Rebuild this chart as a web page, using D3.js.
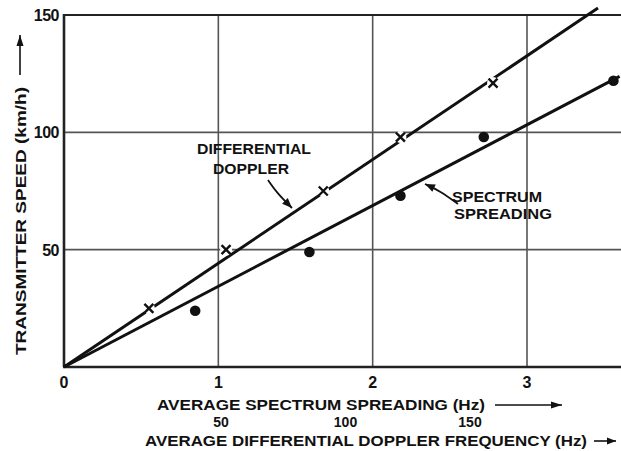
<!DOCTYPE html>
<html>
<head>
<meta charset="utf-8">
<script src="https://cdn.jsdelivr.net/npm/d3@7"></script>
<style>
  html, body { margin: 0; padding: 0; background: #fff; }
  svg text { font-family: "Liberation Sans", "DejaVu Sans", sans-serif; fill: #111; font-weight: bold; }
</style>
</head>
<body>
<svg id="chart" width="621" height="451"></svg>
<script>
// Measured points: spreading (Hz) vs transmitter speed (km/h)
const doppX = [0.55, 1.05, 1.68, 2.18, 2.78];
const doppY = [25, 50, 75, 98, 121];
const spreadX = [0.85, 1.59, 2.18, 2.72, 3.56];
const spreadY = [24, 49, 73, 98, 122];

// Fitted lines through the origin (slope in km/h per Hz)
const doppSlope = 44.2;
const spreadSlope = 34.4;

const xTicks = [0, 1, 2, 3];
const yTicks = [50, 100, 150];
const dopplerFreqTicks = [50, 100, 150];

const svg = d3.select("#chart");
const x = d3.scaleLinear().domain([0, 3]).range([64, 527]);
const y = d3.scaleLinear().domain([0, 150]).range([367, 15]);
// secondary frequency scale printed under the spreading axis
const xf = d3.scaleLinear().domain([50, 150]).range([221, 470]);

const right = 621;

// grid
const grid = svg.append("g").attr("stroke", "#555").attr("stroke-width", 1.6);
grid.selectAll("line.v").data(xTicks.filter(d => d > 0)).join("line")
  .attr("x1", d => x(d)).attr("x2", d => x(d))
  .attr("y1", y(150)).attr("y2", y(0));
grid.selectAll("line.h").data(yTicks.filter(d => d < 150)).join("line")
  .attr("x1", x(0)).attr("x2", right)
  .attr("y1", d => y(d)).attr("y2", d => y(d));

// frame: left, bottom, top
const frame = svg.append("g").attr("stroke", "#222").attr("stroke-width", 2.6).attr("fill", "none");
frame.append("line").attr("x1", x(0)).attr("x2", x(0)).attr("y1", y(150) - 1).attr("y2", y(0));
frame.append("line").attr("x1", x(0) - 1).attr("x2", right).attr("y1", y(0)).attr("y2", y(0));
frame.append("line").attr("x1", x(0) - 1).attr("x2", right).attr("y1", y(150)).attr("y2", y(150)).attr("stroke-width", 2.2);

// fitted lines
const lines = svg.append("g").attr("stroke", "#111").attr("stroke-width", 3).attr("stroke-linecap", "butt");
const doppEnd = 3.46;
const spreadEnd = 3.6;
lines.append("line")
  .attr("x1", x(0)).attr("y1", y(0))
  .attr("x2", x(doppEnd)).attr("y2", y(doppEnd * doppSlope));
lines.append("line")
  .attr("x1", x(0)).attr("y1", y(0))
  .attr("x2", x(spreadEnd)).attr("y2", y(spreadEnd * spreadSlope));

// cross markers (differential doppler) with a white gap around them
const crosses = svg.append("g");
const cs = 4.5;
doppX.forEach((d, i) => {
  const cx = x(d), cy = y(doppY[i]);
  const g = crosses.append("g").attr("transform", `translate(${cx},${cy})`);
  g.append("circle").attr("r", 6).attr("fill", "#fff");
  const p = `M${-cs},${-cs}L${cs},${cs}M${-cs},${cs}L${cs},${-cs}`;
  g.append("path").attr("d", p).attr("stroke", "#111").attr("stroke-width", 2.4);
});

// dot markers (spectrum spreading)
svg.append("g").selectAll("circle").data(spreadX).join("circle")
  .attr("cx", d => x(d))
  .attr("cy", (d, i) => y(spreadY[i]))
  .attr("r", 5.3)
  .attr("fill", "#111");

// tick labels
svg.append("g").selectAll("text").data(xTicks).join("text")
  .attr("x", d => x(d)).attr("y", 388)
  .attr("text-anchor", "middle")
  .attr("font-size", 16)
  .text(d => d);
svg.append("g").selectAll("text").data(yTicks).join("text")
  .attr("x", 59).attr("y", d => y(d) + 6)
  .attr("text-anchor", "end")
  .attr("font-size", 16).attr("letter-spacing", -0.5)
  .text(d => d);
svg.append("g").selectAll("text").data(dopplerFreqTicks).join("text")
  .attr("x", d => xf(d)).attr("y", 427)
  .attr("text-anchor", "middle")
  .attr("font-size", 14)
  .text(d => d);

// arrow helper
function arrow(x1, y1, x2, y2, head) {
  const g = svg.append("g");
  g.append("line").attr("x1", x1).attr("y1", y1).attr("x2", x2).attr("y2", y2)
    .attr("stroke", "#111").attr("stroke-width", 1.6);
  const a = Math.atan2(y2 - y1, x2 - x1);
  const h = head || 9, w = 3.5;
  const bx = x2 - h * Math.cos(a), by = y2 - h * Math.sin(a);
  g.append("path")
    .attr("d", `M${x2},${y2}L${bx - w * Math.sin(a)},${by + w * Math.cos(a)}L${bx + w * Math.sin(a)},${by - w * Math.cos(a)}Z`)
    .attr("fill", "#111");
}

function label(sel, txt, len) {
  return sel.attr("textLength", len).attr("lengthAdjust", "spacingAndGlyphs").text(txt);
}

// axis titles
label(svg.append("text").attr("x", 157).attr("y", 410).attr("font-size", 14.5),
  "AVERAGE SPECTRUM SPREADING (Hz)", 328);
arrow(495, 405, 562, 405, 11);

label(svg.append("text").attr("x", 145).attr("y", 446).attr("font-size", 14.5),
  "AVERAGE DIFFERENTIAL DOPPLER FREQUENCY (Hz)", 442);
arrow(594, 441, 616, 441, 9);

label(svg.append("text").attr("transform", "translate(26,355) rotate(-90)").attr("font-size", 15),
  "TRANSMITTER SPEED (km/h)", 268);
arrow(20, 75, 20, 35, 11);

// series annotations
const ann = svg.append("g").attr("font-size", 15).attr("text-anchor", "middle");
label(ann.append("text").attr("x", 254).attr("y", 154), "DIFFERENTIAL", 114);
label(ann.append("text").attr("x", 251).attr("y", 174), "DOPPLER", 76);
label(ann.append("text").attr("x", 497).attr("y", 202), "SPECTRUM", 90);
label(ann.append("text").attr("x", 503).attr("y", 219), "SPREADING", 98);

// curved pointers to the two lines
function curvedArrow(pts) {
  const g = svg.append("g");
  const n = pts.length;
  g.append("path")
    .attr("d", d3.line().curve(d3.curveBasis)(pts))
    .attr("fill", "none").attr("stroke", "#111").attr("stroke-width", 1.8);
  const [x1, y1] = pts[n - 2], [x2, y2] = pts[n - 1];
  const a = Math.atan2(y2 - y1, x2 - x1);
  const h = 10, w = 4;
  const bx = x2 - h * Math.cos(a), by = y2 - h * Math.sin(a);
  g.append("path")
    .attr("d", `M${x2},${y2}L${bx - w * Math.sin(a)},${by + w * Math.cos(a)}L${bx + w * Math.sin(a)},${by - w * Math.cos(a)}Z`)
    .attr("fill", "#111");
}
curvedArrow([[268, 180], [277, 193], [292, 208]]);
curvedArrow([[458, 204], [440, 191], [425, 184]]);
</script>
</body>
</html>
